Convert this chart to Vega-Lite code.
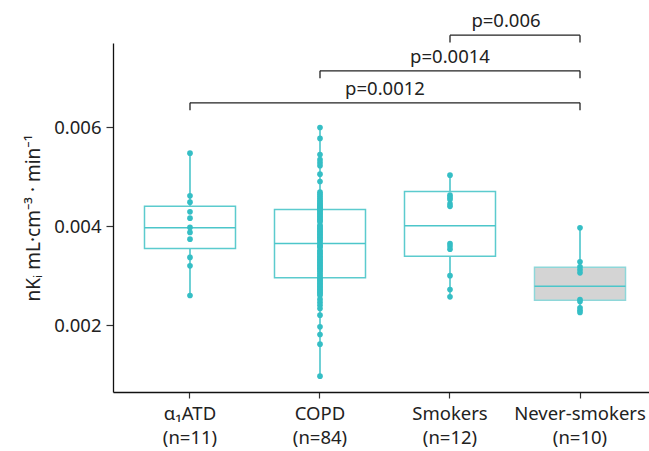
{
  "$schema": "https://vega.github.io/schema/vega-lite/v6.json",
  "autosize": {"type": "none"},
  "width": 536,
  "height": 349,
  "padding": {"left": 113, "top": 43, "right": 0, "bottom": 59},
  "background": "white",
  "config": {
    "view": {"stroke": null},
    "font": "Noto Sans",
    "axis": {"labelFont": "Noto Sans", "titleFont": "Noto Sans", "labelColor": "#222", "titleColor": "#222", "domainColor": "#111", "domainWidth": 1.3, "tickColor": "#333", "tickWidth": 1.2, "grid": false}
  },
  "datasets": {
    "points": [
      {"group": "α₁ATD", "v": 0.005475}, {"group": "α₁ATD", "v": 0.004612}, {"group": "α₁ATD", "v": 0.004485}, {"group": "α₁ATD", "v": 0.004289}, {"group": "α₁ATD", "v": 0.004162}, {"group": "α₁ATD", "v": 0.003974}, {"group": "α₁ATD", "v": 0.003873}, {"group": "α₁ATD", "v": 0.003737}, {"group": "α₁ATD", "v": 0.003368}, {"group": "α₁ATD", "v": 0.003198}, {"group": "α₁ATD", "v": 0.0026},
      {"group": "COPD", "v": 0.005994}, {"group": "COPD", "v": 0.005772}, {"group": "COPD", "v": 0.005448}, {"group": "COPD", "v": 0.005343}, {"group": "COPD", "v": 0.005283}, {"group": "COPD", "v": 0.005222}, {"group": "COPD", "v": 0.005051}, {"group": "COPD", "v": 0.004903}, {"group": "COPD", "v": 0.004687}, {"group": "COPD", "v": 0.004646}, {"group": "COPD", "v": 0.004606}, {"group": "COPD", "v": 0.004566}, {"group": "COPD", "v": 0.004525}, {"group": "COPD", "v": 0.004495}, {"group": "COPD", "v": 0.004465}, {"group": "COPD", "v": 0.004434}, {"group": "COPD", "v": 0.004414}, {"group": "COPD", "v": 0.004394}, {"group": "COPD", "v": 0.004374}, {"group": "COPD", "v": 0.004354}, {"group": "COPD", "v": 0.004343},
      {"group": "COPD", "v": 0.004323}, {"group": "COPD", "v": 0.004293}, {"group": "COPD", "v": 0.004263}, {"group": "COPD", "v": 0.004232}, {"group": "COPD", "v": 0.004202}, {"group": "COPD", "v": 0.004172}, {"group": "COPD", "v": 0.004141}, {"group": "COPD", "v": 0.004111}, {"group": "COPD", "v": 0.004091}, {"group": "COPD", "v": 0.00402}, {"group": "COPD", "v": 0.00399}, {"group": "COPD", "v": 0.00396}, {"group": "COPD", "v": 0.003929}, {"group": "COPD", "v": 0.003899}, {"group": "COPD", "v": 0.003869}, {"group": "COPD", "v": 0.003838}, {"group": "COPD", "v": 0.003808}, {"group": "COPD", "v": 0.003778}, {"group": "COPD", "v": 0.003747}, {"group": "COPD", "v": 0.003717}, {"group": "COPD", "v": 0.003677},
      {"group": "COPD", "v": 0.003626}, {"group": "COPD", "v": 0.003596}, {"group": "COPD", "v": 0.003576}, {"group": "COPD", "v": 0.003515}, {"group": "COPD", "v": 0.003485}, {"group": "COPD", "v": 0.003455}, {"group": "COPD", "v": 0.003424}, {"group": "COPD", "v": 0.003394}, {"group": "COPD", "v": 0.003364}, {"group": "COPD", "v": 0.003333}, {"group": "COPD", "v": 0.003303}, {"group": "COPD", "v": 0.003273}, {"group": "COPD", "v": 0.003242}, {"group": "COPD", "v": 0.003212}, {"group": "COPD", "v": 0.003182}, {"group": "COPD", "v": 0.003152}, {"group": "COPD", "v": 0.003121}, {"group": "COPD", "v": 0.003091}, {"group": "COPD", "v": 0.003051}, {"group": "COPD", "v": 0.00301}, {"group": "COPD", "v": 0.00297},
      {"group": "COPD", "v": 0.002939}, {"group": "COPD", "v": 0.002909}, {"group": "COPD", "v": 0.002879}, {"group": "COPD", "v": 0.002848}, {"group": "COPD", "v": 0.002818}, {"group": "COPD", "v": 0.002788}, {"group": "COPD", "v": 0.002758}, {"group": "COPD", "v": 0.002727}, {"group": "COPD", "v": 0.002697}, {"group": "COPD", "v": 0.002667}, {"group": "COPD", "v": 0.002636}, {"group": "COPD", "v": 0.002606}, {"group": "COPD", "v": 0.002525}, {"group": "COPD", "v": 0.002465}, {"group": "COPD", "v": 0.002404}, {"group": "COPD", "v": 0.002337}, {"group": "COPD", "v": 0.002202}, {"group": "COPD", "v": 0.001966}, {"group": "COPD", "v": 0.001812}, {"group": "COPD", "v": 0.001616}, {"group": "COPD", "v": 0.00097},
      {"group": "Smokers", "v": 0.00503}, {"group": "Smokers", "v": 0.004626}, {"group": "Smokers", "v": 0.00458}, {"group": "Smokers", "v": 0.00454}, {"group": "Smokers", "v": 0.00445}, {"group": "Smokers", "v": 0.0044}, {"group": "Smokers", "v": 0.00365}, {"group": "Smokers", "v": 0.0036}, {"group": "Smokers", "v": 0.003535}, {"group": "Smokers", "v": 0.003}, {"group": "Smokers", "v": 0.00272}, {"group": "Smokers", "v": 0.002572},
      {"group": "Never-smokers", "v": 0.003966}, {"group": "Never-smokers", "v": 0.003279}, {"group": "Never-smokers", "v": 0.003178}, {"group": "Never-smokers", "v": 0.00312}, {"group": "Never-smokers", "v": 0.003057}, {"group": "Never-smokers", "v": 0.002519}, {"group": "Never-smokers", "v": 0.00248}, {"group": "Never-smokers", "v": 0.00235}, {"group": "Never-smokers", "v": 0.0023}, {"group": "Never-smokers", "v": 0.002257}
    ],
    "boxes": [
      {"group": "α₁ATD", "q1": 0.00355, "median": 0.003966, "q3": 0.004404, "min": 0.0026, "max": 0.005475},
      {"group": "COPD", "q1": 0.002956, "median": 0.00365, "q3": 0.004337, "min": 0.00097, "max": 0.005994},
      {"group": "Smokers", "q1": 0.003394, "median": 0.004006, "q3": 0.0047, "min": 0.002572, "max": 0.00503},
      {"group": "Never-smokers", "q1": 0.002505, "median": 0.002788, "q3": 0.003172, "min": 0.002257, "max": 0.003966}
    ],
    "brackets": [
      {"from": "α₁ATD", "to": "Never-smokers", "y": 0.006491, "ytick": 0.006343, "label": "p=0.0012"},
      {"from": "COPD", "to": "Never-smokers", "y": 0.007137, "ytick": 0.00699, "label": "p=0.0014"},
      {"from": "Smokers", "to": "Never-smokers", "y": 0.007859, "ytick": 0.007712, "label": "p=0.006"}
    ]
  },
  "encoding": {
    "x": {"field": "group", "type": "nominal", "sort": ["α₁ATD", "COPD", "Smokers", "Never-smokers"],
      "scale": {"type": "band", "domain": ["α₁ATD", "COPD", "Smokers", "Never-smokers"], "paddingInner": 0, "paddingOuter": 0.0615, "align": 0.75},
      "axis": {"title": null, "labelAngle": 0, "labelFontSize": 18.5, "labelLineHeight": 24, "tickSize": 6, "labelPadding": 6,
        "labelExpr": "[datum.label, datum.label == 'α₁ATD' ? '(n=11)' : datum.label == 'COPD' ? '(n=84)' : datum.label == 'Smokers' ? '(n=12)' : '(n=10)']"}}
  },
  "layer": [
    {
      "data": {"name": "boxes"},
      "mark": {"type": "rule", "color": "#3fc1c7", "strokeWidth": 1.5},
      "encoding": {
        "y": {"field": "q3", "type": "quantitative", "scale": {"domain": [0.00065, 0.0077], "nice": false, "zero": false},
          "axis": {"title": "nKᵢ mL·cm⁻³ · min⁻¹", "titleFontSize": 19, "titleFontWeight": "normal", "titlePadding": 10, "labelFontSize": 18.5, "values": [0.002, 0.004, 0.006], "format": ".3f", "tickSize": 7, "labelPadding": 5}},
        "y2": {"field": "max"}
      }
    },
    {
      "data": {"name": "boxes"},
      "mark": {"type": "rule", "color": "#3fc1c7", "strokeWidth": 1.5},
      "encoding": {
        "y": {"field": "min", "type": "quantitative"},
        "y2": {"field": "q1"}
      }
    },
    {
      "data": {"name": "boxes"},
      "mark": {"type": "bar", "width": {"band": 0.7}, "strokeWidth": 1.5},
      "encoding": {
        "y": {"field": "q1", "type": "quantitative"},
        "y2": {"field": "q3"},
        "fill": {"condition": {"test": "datum.group == 'Never-smokers'", "value": "#d4d4d4"}, "value": "white"},
        "stroke": {"condition": {"test": "datum.group == 'Never-smokers'", "value": "#8ed7d9"}, "value": "#5ccbce"}
      }
    },
    {
      "data": {"name": "boxes"},
      "mark": {"type": "tick", "size": 91, "thickness": 1.5, "color": "#4cc6ca", "opacity": 1},
      "encoding": {
        "y": {"field": "median", "type": "quantitative"}
      }
    },
    {
      "data": {"name": "points"},
      "mark": {"type": "circle", "size": 32, "color": "#35bec5", "opacity": 1},
      "encoding": {
        "y": {"field": "v", "type": "quantitative"}
      }
    },
    {
      "data": {"name": "brackets"},
      "mark": {"type": "rule", "color": "#222", "strokeWidth": 1.3},
      "encoding": {
        "x": {"field": "from", "type": "nominal"},
        "x2": {"field": "to"},
        "y": {"field": "y", "type": "quantitative"}
      }
    },
    {
      "data": {"name": "brackets"},
      "mark": {"type": "rule", "color": "#222", "strokeWidth": 1.3},
      "encoding": {
        "x": {"field": "from", "type": "nominal"},
        "y": {"field": "y", "type": "quantitative"},
        "y2": {"field": "ytick"}
      }
    },
    {
      "data": {"name": "brackets"},
      "mark": {"type": "rule", "color": "#222", "strokeWidth": 1.3},
      "encoding": {
        "x": {"field": "to", "type": "nominal"},
        "y": {"field": "y", "type": "quantitative"},
        "y2": {"field": "ytick"}
      }
    },
    {
      "data": {"name": "brackets"},
      "transform": [{"filter": "datum.label == 'p=0.0012'"}],
      "mark": {"type": "text", "fontSize": 18.5, "color": "#222", "baseline": "bottom", "dy": -4, "align": "center"},
      "encoding": {
        "x": {"datum": "COPD", "bandPosition": 1},
        "y": {"field": "y", "type": "quantitative"},
        "text": {"field": "label"}
      }
    },
    {
      "data": {"name": "brackets"},
      "transform": [{"filter": "datum.label == 'p=0.0014'"}],
      "mark": {"type": "text", "fontSize": 18.5, "color": "#222", "baseline": "bottom", "dy": -4, "align": "center"},
      "encoding": {
        "x": {"datum": "Smokers"},
        "y": {"field": "y", "type": "quantitative"},
        "text": {"field": "label"}
      }
    },
    {
      "data": {"name": "brackets"},
      "transform": [{"filter": "datum.label == 'p=0.006'"}],
      "mark": {"type": "text", "fontSize": 18.5, "color": "#222", "baseline": "bottom", "dy": -4, "align": "center", "dx": -9},
      "encoding": {
        "x": {"datum": "Smokers", "bandPosition": 1},
        "y": {"field": "y", "type": "quantitative"},
        "text": {"field": "label"}
      }
    }
  ]
}
